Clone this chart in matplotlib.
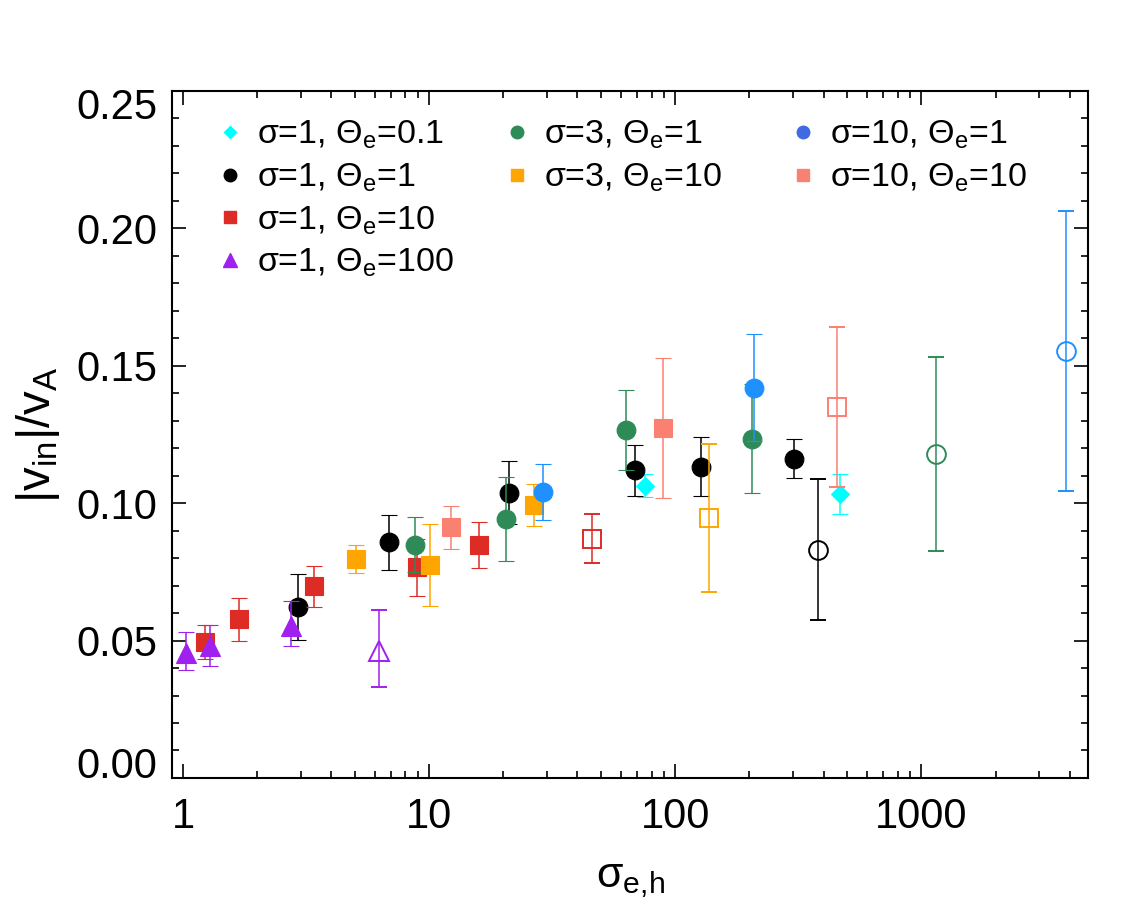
import numpy as np
import matplotlib
matplotlib.use('Agg')
import matplotlib.pyplot as plt
import matplotlib.transforms as mtransforms
from matplotlib.lines import Line2D
from matplotlib.ticker import MultipleLocator, LogLocator, NullFormatter, FixedLocator, FixedFormatter

plt.rcParams['font.family'] = ['Liberation Sans', 'DejaVu Sans']
plt.rcParams['mathtext.fontset'] = 'custom'
plt.rcParams['mathtext.rm'] = 'Liberation Sans'
plt.rcParams['mathtext.it'] = 'Liberation Sans:italic'

# sigma=1, Theta_e=0.1
cyan_x = [75.4, 467]
cyan_y = [0.1063, 0.1034]
cyan_lo = [0.1021, 0.0962]
cyan_hi = [0.1107, 0.1104]
cyan_open = [False, False]

# sigma=1, Theta_e=1
black_x = [2.93, 6.86, 21.1, 68.5, 127.7, 304.8, 380]
black_y = [0.0622, 0.0857, 0.1037, 0.1120, 0.1133, 0.1162, 0.0831]
black_lo = [0.0502, 0.0758, 0.0923, 0.1027, 0.1024, 0.1091, 0.0574]
black_hi = [0.0743, 0.0957, 0.1154, 0.1212, 0.1242, 0.1234, 0.1086]
black_open = [False, False, False, False, False, False, True]

# sigma=1, Theta_e=10
red_x = [1.23, 1.69, 3.39, 8.91, 16.0, 45.9]
red_y = [0.0495, 0.0579, 0.0697, 0.0767, 0.0849, 0.0871]
red_lo = [0.0434, 0.0500, 0.0623, 0.0661, 0.0765, 0.0781]
red_hi = [0.0555, 0.0656, 0.0772, 0.0871, 0.0930, 0.0959]
red_open = [False, False, False, False, False, True]

# sigma=1, Theta_e=100
purple_x = [1.03, 1.28, 2.74, 6.22]
purple_y = [0.0456, 0.0479, 0.0552, 0.0463]
purple_lo = [0.0392, 0.0406, 0.0479, 0.0331]
purple_hi = [0.0530, 0.0557, 0.0645, 0.0611]
purple_open = [False, False, False, True]

# sigma=3, Theta_e=1
green_x = [8.77, 20.5, 63.3, 204.6, 1147]
green_y = [0.0846, 0.0942, 0.1266, 0.1234, 0.1178]
green_lo = [0.0748, 0.0791, 0.1121, 0.1037, 0.0825]
green_hi = [0.0948, 0.1095, 0.1410, 0.1433, 0.1531]
green_open = [False, False, False, False, True]

# sigma=3, Theta_e=10
orange_x = [5.05, 10.1, 26.7, 137]
orange_y = [0.0797, 0.0776, 0.0994, 0.0946]
orange_lo = [0.0744, 0.0627, 0.0918, 0.0677]
orange_hi = [0.0849, 0.0925, 0.1070, 0.1215]
orange_open = [False, False, False, True]

# sigma=10, Theta_e=1
blue_x = [29.1, 209, 3848]
blue_y = [0.1040, 0.1419, 0.1552]
blue_lo = [0.0937, 0.1224, 0.1043]
blue_hi = [0.1143, 0.1615, 0.2061]
blue_open = [False, False, True]

# sigma=10, Theta_e=10
salmon_x = [12.2, 89.0, 454]
salmon_y = [0.0912, 0.1274, 0.1350]
salmon_lo = [0.0832, 0.1020, 0.1057]
salmon_hi = [0.0990, 0.1527, 0.1642]
salmon_open = [False, False, True]

series = [
    ('σ=1, Θ$_{\\mathrm{e}}$=0.1', '#00FFFF', '#00FFFF', 'D', cyan_x, cyan_y, cyan_lo, cyan_hi, cyan_open),
    ('σ=1, Θ$_{\\mathrm{e}}$=1', 'black', 'black', 'o', black_x, black_y, black_lo, black_hi, black_open),
    ('σ=1, Θ$_{\\mathrm{e}}$=10', '#DD2C26', '#DD2C26', 's', red_x, red_y, red_lo, red_hi, red_open),
    ('σ=1, Θ$_{\\mathrm{e}}$=100', '#A020F0', '#A020F0', '^', purple_x, purple_y, purple_lo, purple_hi, purple_open),
    ('σ=3, Θ$_{\\mathrm{e}}$=1', '#2E8B57', '#2E8B57', 'o', green_x, green_y, green_lo, green_hi, green_open),
    ('σ=3, Θ$_{\\mathrm{e}}$=10', '#FFA500', '#FFA500', 's', orange_x, orange_y, orange_lo, orange_hi, orange_open),
    ('σ=10, Θ$_{\\mathrm{e}}$=1', '#1E90FF', '#4169E1', 'o', blue_x, blue_y, blue_lo, blue_hi, blue_open),
    ('σ=10, Θ$_{\\mathrm{e}}$=10', '#FA8072', '#FA8072', 's', salmon_x, salmon_y, salmon_lo, salmon_hi, salmon_open),
]
msizes = {'o': 13.5, 's': 13.0, '^': 14.0, 'D': 9.5}
leg_sizes = {'o': 9.0, 's': 9.0, '^': 9.5, 'D': 6.5}

fig = plt.figure(figsize=(11.46, 9.17), dpi=100)
ax = fig.add_axes([0.1505, 0.1516, 0.7989, 0.7495])

z = 2
for label, color, legcolor, marker, xs, ys, lo, hi, opn in series:
    xs = np.array(xs)
    ys = np.array(ys)
    lo = np.array(lo)
    hi = np.array(hi)
    opn = np.array(opn)
    for is_open in [False, True]:
        m = opn == is_open
        if not m.any():
            continue
        ax.errorbar(xs[m], ys[m], yerr=[ys[m] - lo[m], hi[m] - ys[m]],
                    fmt=marker, ms=msizes[marker],
                    mfc='none' if is_open else color, mec=color,
                    mew=1.4 if is_open else 0.8,
                    ecolor=color, elinewidth=1.1, capsize=6, capthick=1.1,
                    zorder=z)
        z += 1

ax.set_xscale('log')
ax.set_xlim(0.905, 4750)
ax.set_ylim(0.0, 0.25)
ax.xaxis.set_major_locator(FixedLocator([1, 10, 100, 1000]))
ax.xaxis.set_major_formatter(FixedFormatter(['1', '10', '100', '1000']))
ax.xaxis.set_minor_locator(LogLocator(base=10, subs=np.arange(2, 10)))
ax.xaxis.set_minor_formatter(NullFormatter())
ax.yaxis.set_major_locator(MultipleLocator(0.05))
ax.yaxis.set_minor_locator(MultipleLocator(0.01))
ax.yaxis.set_major_formatter(plt.FormatStrFormatter('%.2f'))

for s in ax.spines.values():
    s.set_linewidth(1.5)
ax.tick_params(which='both', direction='in', top=True, right=True, width=1.2)
ax.tick_params(which='major', length=10, labelsize=30)
ax.tick_params(which='minor', length=5)
ax.tick_params(axis='x', which='major', pad=14)
ax.tick_params(axis='y', which='major', pad=11)

ax.set_xlabel('σ$_{\\mathrm{e{,}h}}$', fontsize=31, labelpad=16)
ax.set_ylabel('|v$_{\\mathrm{in}}$|/v$_{\\mathrm{A}}$', fontsize=34, labelpad=10)

# shift the end labels of the y axis inward
fig.canvas.draw()
ylabels = ax.get_yticklabels()
for lbl in ylabels:
    txt = lbl.get_text()
    if txt == '0.00':
        lbl.set_transform(lbl.get_transform() + mtransforms.ScaledTranslation(0, 11 / 72, fig.dpi_scale_trans))
    elif txt == '0.25':
        lbl.set_transform(lbl.get_transform() + mtransforms.ScaledTranslation(0, -9 / 72, fig.dpi_scale_trans))

# legend: three columns placed separately
handles = []
labels = []
for label, color, legcolor, marker, xs, ys, lo, hi, opn in series:
    handles.append(Line2D([], [], ls='none', marker=marker, color=legcolor,
                          mec=legcolor, ms=leg_sizes[marker]))
    labels.append(label)

groups = [(0, 4, 213), (4, 6, 500), (6, 8, 786)]
legs = []
for a, b, xpix in groups:
    leg = ax.legend(handles[a:b], labels[a:b], loc='upper left',
                    bbox_to_anchor=(xpix / 1146, 1 - 119 / 917),
                    bbox_transform=fig.transFigure, frameon=False,
                    fontsize=24.5, borderpad=0, borderaxespad=0,
                    handlelength=1.0, handletextpad=0.3, labelspacing=0.3)
    legs.append(leg)
for leg in legs[:-1]:
    ax.add_artist(leg)

fig.savefig('out.png', dpi=100)
